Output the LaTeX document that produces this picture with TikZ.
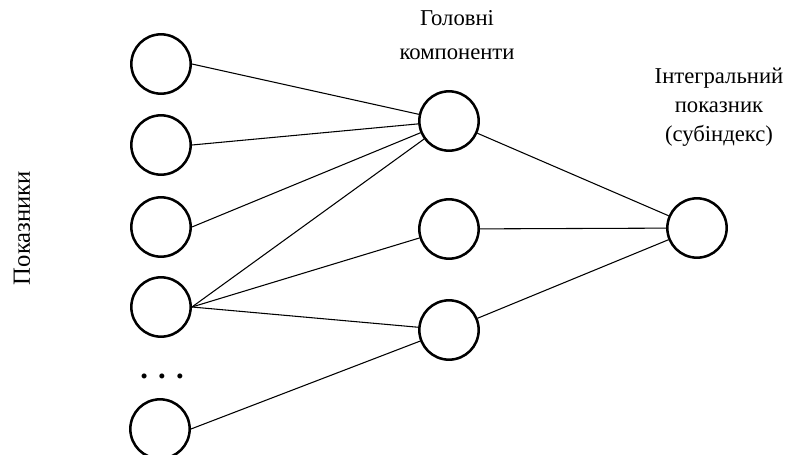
\documentclass[tikz,border=0pt]{standalone}
\usepackage{fontspec}
\setmainfont{Liberation Serif}
\begin{document}
\begin{tikzpicture}[x=0.75pt,y=-0.75pt,
  neuron/.style={circle,draw,line width=1.9pt,minimum size=44.5pt,inner sep=0pt},
  link/.style={line width=0.8pt},
  lab/.style={font=\fontsize{17}{21.5}\selectfont,align=center,inner sep=0pt}]
\useasboundingbox (0,0) rectangle (785,454);
% inputs
\node[neuron] (l1) at (161,64) {};
\node[neuron] (l2) at (161,145) {};
\node[neuron] (l3) at (161,227) {};
\node[neuron] (l4) at (161,307) {};
\node[neuron] (l5) at (160,429) {};
\node[font=\fontsize{23}{23}\selectfont\bfseries,inner sep=0pt] (dots) at (162,376) {. . .};
% principal components
\node[neuron] (m1) at (449,121) {};
\node[neuron] (m2) at (449,229) {};
\node[neuron] (m3) at (449,330) {};
% integral
\node[neuron] (r) at (697,228) {};
% labels
\node[lab,font=\fontsize{18.5}{21.5}\selectfont,rotate=90] (pl) at (22,228) {Показники};
\node[lab,font=\fontsize{17}{26}\selectfont,anchor=north] (hl) at (457,10) {Головні\\компоненти};
\node[lab,anchor=north] (il) at (719,68) {Інтегральний\\показник\\(субіндекс)};
% links
\draw[link] (l1.east) -- (m1);
\draw[link] (l2.east) -- (m1);
\draw[link] (l3.east) -- (m1);
\draw[link] (l4.east) -- (m1);
\draw[link] (l4.east) -- (m2);
\draw[link] (l4.east) -- (m3);
\draw[link] (l5.east) -- (m3);
\draw[link] (m1) -- (r);
\draw[link] (m2) -- (r);
\draw[link] (m3) -- (r);
\end{tikzpicture}
\end{document}
